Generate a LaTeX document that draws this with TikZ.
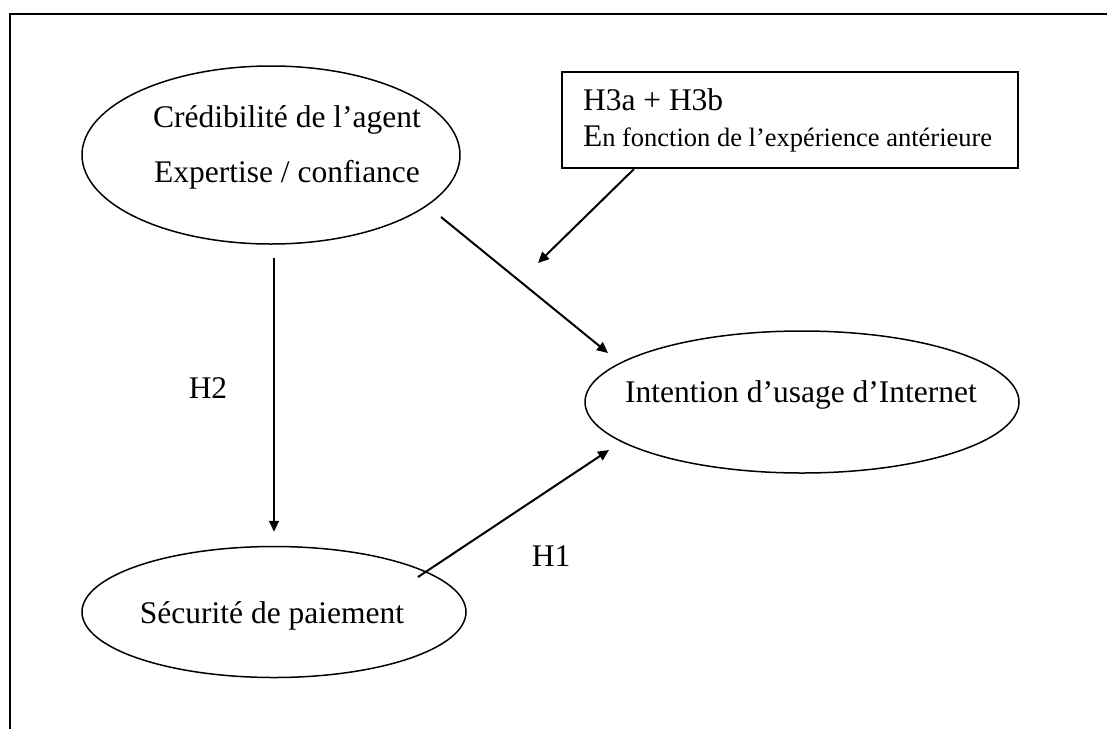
\documentclass[tikz,border=0pt]{standalone}
\usepackage{fontspec}
\setmainfont{Liberation Serif}
\usetikzlibrary{arrows.meta,calc,shapes.geometric}
\definecolor{Ink}{HTML}{000000}
\tikzset{
  oval/.style={
    ellipse, draw=Ink, line width=1.5pt, inner sep=0pt
  },
  ovaltext/.style={
    align=center, inner sep=0pt, font=\fontsize{31.5}{55}\selectfont
  },
  notebox/.style={
    rectangle, draw=Ink, line width=2pt, minimum width=456pt,
    minimum height=96pt, text width=414pt, align=flush left, inner sep=0pt,
    font=\fontsize{31.5}{36}\selectfont
  },
  hyp/.style={inner sep=0pt, font=\fontsize{31.5}{36}\selectfont},
  link/.style={-{Triangle[length=11pt,width=10pt]}, line width=2pt, draw=Ink},
  frameline/.style={line width=2pt, draw=Ink}
}

\begin{document}
\begin{tikzpicture}[x=1pt,y=-1pt]
    \useasboundingbox (0,0) rectangle (1107,729);
    \draw[frameline] (1107,13.5) -- (10,13.5) -- (10,729);

    \node[oval,minimum width=378pt,minimum height=178pt] (cred) at (271,155) {};
    \node[oval,minimum width=434pt,minimum height=142pt] (intent) at (802,402) {};
    \node[oval,minimum width=384pt,minimum height=131pt] (secu) at (274,612) {};
    \node[ovaltext] (credtext) at ($(cred)+(16,-8)$)
      {Crédibilité de l’agent\\Expertise / confiance};
    \node[ovaltext] (intenttext) at ($(intent)+(-1,-7)$) {Intention d’usage d’Internet};
    \node[ovaltext] (secutext) at ($(secu)+(-2,4)$) {Sécurité de paiement};

    \node[notebox] (note) at (790,120)
      {H3a + H3b\\\mbox{{\fontsize{31.5}{36}\selectfont E}{\fontsize{26.5}{36}\selectfont n fonction de l’expérience antérieure}}};
    \coordinate (moderate) at (538,263);

    \node[hyp] (h2) at (208,388) {H2};
    \node[hyp] (h1) at (551,556) {H1};

    \draw[link] ($(cred.south)+(3,13)$) -- ($(secu.north)+(0,-14)$);
    \draw[link] ($(cred)+(170,62)$) -- ($(intent)+(-194,-49)$);
    \draw[link] ($(secu)+(144,-35)$) -- ($(intent)+(-193,48)$);
    \draw[link] ($(note.south west)+(73,0)$) -- (moderate);
  \end{tikzpicture}
\end{document}
